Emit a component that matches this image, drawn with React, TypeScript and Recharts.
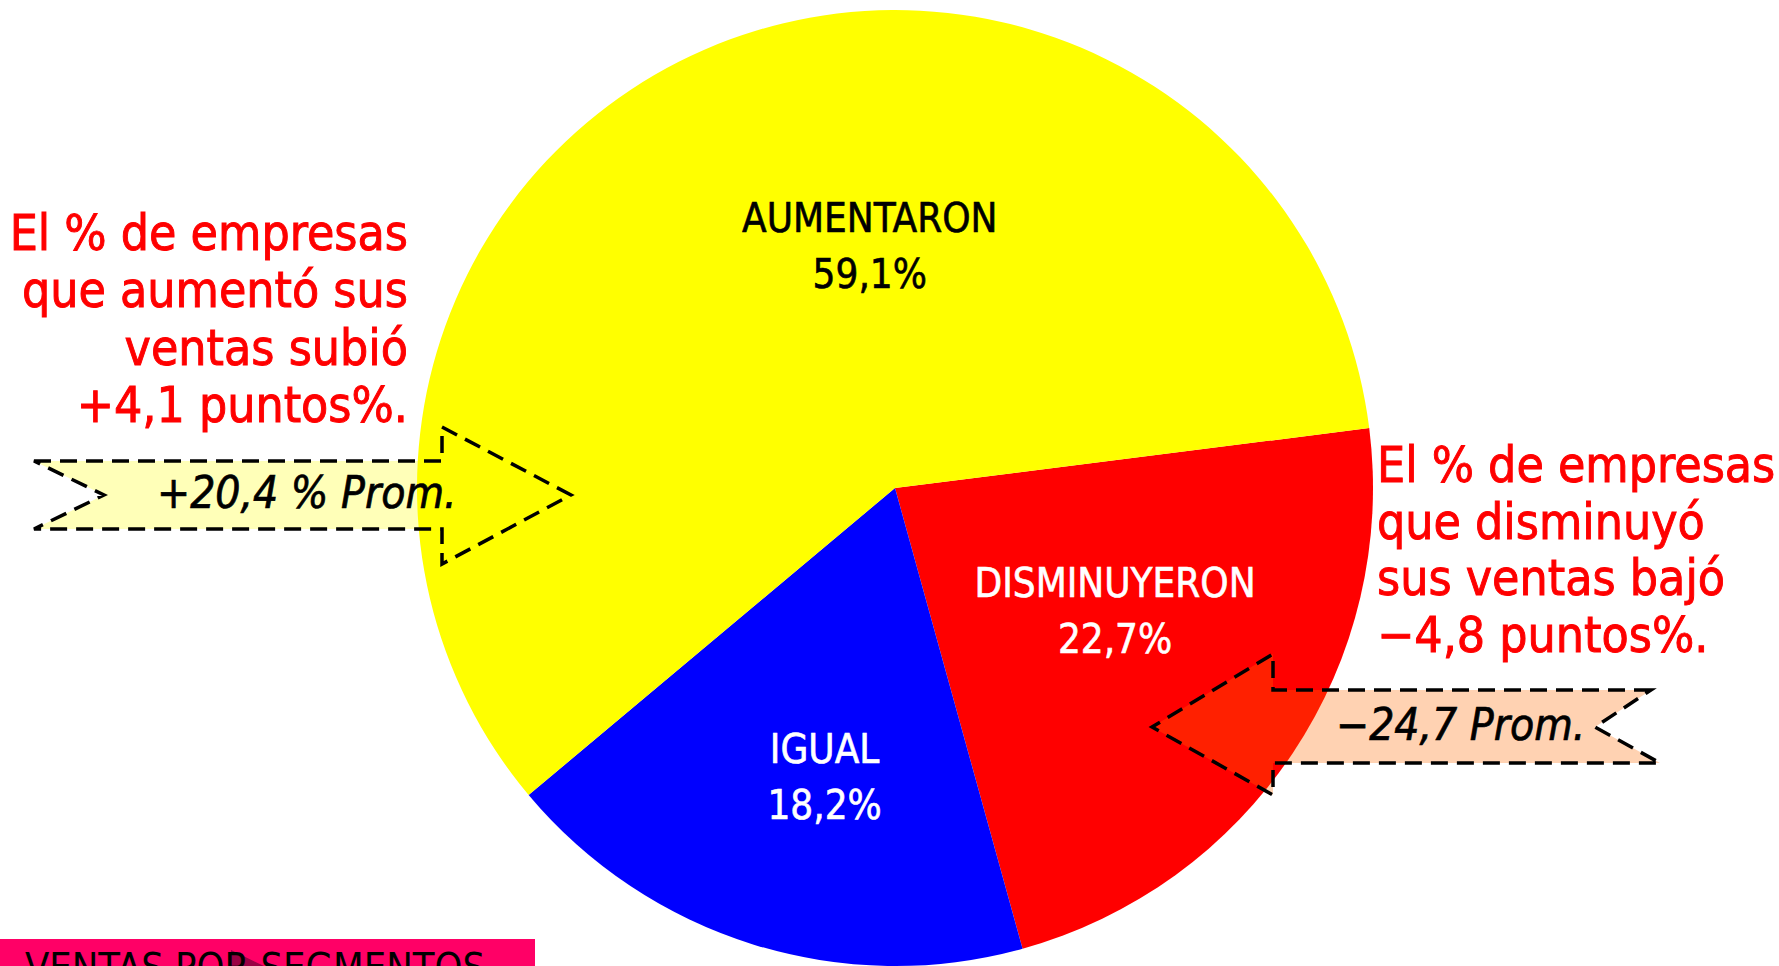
import React from 'react';
import { PieChart, Pie, Cell } from 'recharts';

const categories = ['DISMINUYERON', 'IGUAL', 'AUMENTARON'];
const shares = [22.7, 18.2, 59.1];
const sliceColors = ['#FF0000', '#0000FF', '#FFFF00'];
const labelColors = ['#FFFFFF', '#FFFFFF', '#000000'];

const leftNote = ['El % de empresas', 'que aumentó sus', 'ventas subió', '+4,1 puntos%.'];
const rightNote = ['El % de empresas', 'que disminuyó', 'sus ventas bajó', '\u22124,8 puntos%.'];
const leftArrowText = '+20,4 % Prom.';
const rightArrowText = '\u221224,7 Prom.';
const bannerText = 'VENTAS POR SEGMENTOS';

const data = categories.map((name, i) => ({ name, value: shares[i] }));

const FONT = "'DejaVu Sans Condensed', 'DejaVu Sans', sans-serif";
const W = 1779;
const H = 966;

// label placement tweaks (radius fraction, angle offset in degrees)
const LABEL_PLACE = [
  { r: 0.542, dAngle: 1.8 },
  { r: 0.651, dAngle: 4.2 },
  { r: 0.479, dAngle: -17.25 },
];

const fmt = (v: number) => v.toFixed(1).replace('.', ',') + '%';

const renderLabel = (props: any) => {
  const { cx, cy, midAngle, outerRadius, index, name, value } = props;
  const place = LABEL_PLACE[index];
  const ang = ((midAngle + place.dAngle) * Math.PI) / 180;
  const r = outerRadius * place.r;
  const x = cx + r * Math.cos(ang);
  const y = cy - r * Math.sin(ang);
  const fill = labelColors[index];
  const common = {
    textAnchor: 'middle' as const,
    fill,
    stroke: fill,
    strokeWidth: 0.6,
    fontSize: 40,
    fontFamily: FONT,
    style: { fontStretch: 'condensed' },
  };
  return (
    <g key={`lbl-${index}`}>
      <text x={x} y={y - 28} {...common}>
        {name}
      </text>
      <text x={x} y={y + 28} {...common}>
        {fmt(value)}
      </text>
    </g>
  );
};

export default function App() {
  const dash = '17 9';
  const noteStyle = { fontStretch: 'condensed' };
  return (
    <div style={{ position: 'absolute', left: 0, top: 0, width: W, height: H, background: '#fff', overflow: 'hidden' }}>
      <PieChart width={W} height={H} margin={{ top: 0, right: 0, bottom: 0, left: 0 }}>
        <Pie
          data={data}
          dataKey="value"
          nameKey="name"
          cx={895}
          cy={488}
          outerRadius={478}
          startAngle={7.2}
          endAngle={7.2 - 360}
          stroke="none"
          label={renderLabel}
          labelLine={false}
          isAnimationActive={false}
        >
          {data.map((d, i) => (
            <Cell key={d.name} fill={sliceColors[i]} stroke="none" />
          ))}
        </Pie>
      </PieChart>
      <svg width={W} height={H} style={{ position: 'absolute', left: 0, top: 0, pointerEvents: 'none' }}>
        {/* left arrow */}
        <polygon
          points="34,461 442,461 442,427 571,495 442,564 442,529 34,529 104,495"
          fill="rgba(255,255,0,0.28)"
          stroke="#000"
          strokeWidth={3.5}
          strokeDasharray={dash}
        />
        <text x={157} y={508} fontSize={44} fontStyle="italic" fontFamily={FONT} fill="#000" stroke="#000" strokeWidth={0.7} style={noteStyle}>
          {leftArrowText}
        </text>
        {/* right arrow */}
        <polygon
          points="1651,690 1273,690 1273,654 1152,727 1273,795 1273,763 1660,763 1595,727"
          fill="rgba(255,107,0,0.3)"
          stroke="#000"
          strokeWidth={3.5}
          strokeDasharray={dash}
        />
        <text x={1336} y={740} fontSize={44} fontStyle="italic" fontFamily={FONT} fill="#000" stroke="#000" strokeWidth={0.7} style={noteStyle}>
          {rightArrowText}
        </text>
        {/* left note */}
        {leftNote.map((t, i) => (
          <text key={t} x={408} y={250 + i * 57.3} textAnchor="end" fontSize={49.5} fontFamily={FONT} fill="#FF0000" stroke="#FF0000" strokeWidth={0.9} style={noteStyle}>
            {t}
          </text>
        ))}
        {/* right note */}
        {rightNote.map((t, i) => (
          <text key={t} x={1377} y={482 + i * 56.7} textAnchor="start" fontSize={49.5} fontFamily={FONT} fill="#FF0000" stroke="#FF0000" strokeWidth={0.9} style={noteStyle}>
            {t}
          </text>
        ))}
        {/* banner */}
        <rect x={0} y={939} width={535} height={40} fill="#FF0066" />
        <polygon points="231,950 268,968 231,968" fill="#990044" />
        <text x={25} y={981} fontSize={39.5} fontFamily={FONT} fill="#000" style={noteStyle}>
          {bannerText}
        </text>
      </svg>
    </div>
  );
}
